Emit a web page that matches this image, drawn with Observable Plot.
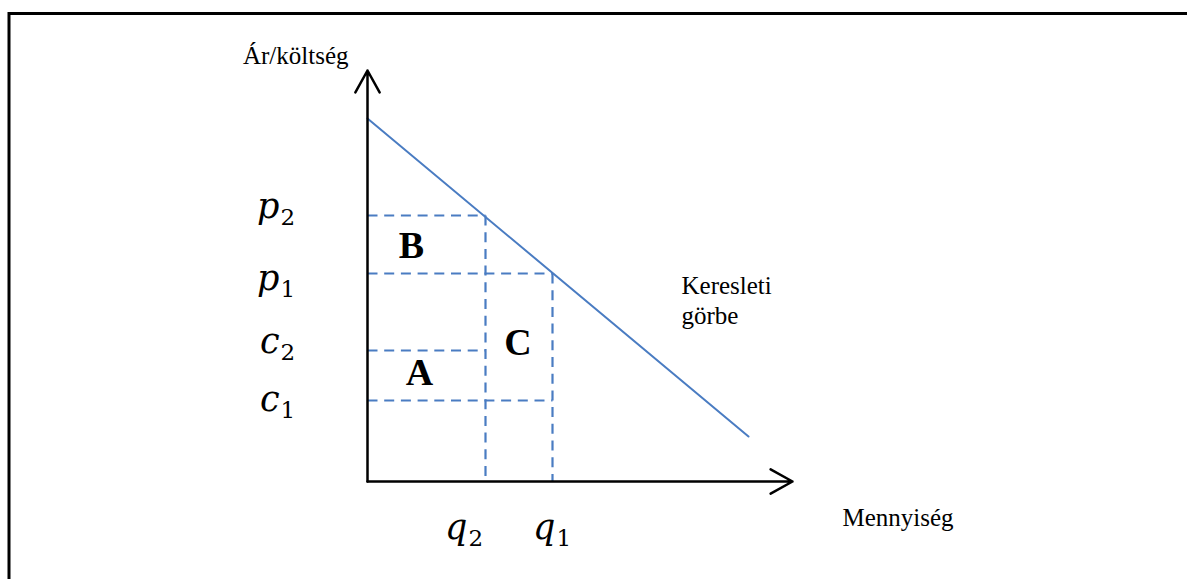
<!DOCTYPE html>
<html>
<head>
<meta charset="utf-8">
<script src="https://cdn.jsdelivr.net/npm/d3@7"></script>
<script src="https://cdn.jsdelivr.net/npm/@observablehq/plot@0.6"></script>
<style>
  html, body { margin: 0; padding: 0; background: #fff; overflow: hidden; }
</style>
</head>
<body>
<div id="chart"></div>
<script>
// ---- data (diagram units) ----
const priceNames = ["p", "p", "c", "c"];
const priceSubs = ["2", "1", "2", "1"];
const priceValues = [26.6, 20.8, 13.1, 8.1];
const priceReach = [11.8, 18.5, 11.8, 18.5]; // quantity each price line runs to

const quantityNames = ["q", "q"];
const quantitySubs = ["2", "1"];
const quantityValues = [11.8, 18.5];
const quantityReach = [26.6, 20.8]; // price each quantity line rises to

const demandX = [0, 38.1];
const demandY = [36.3, 4.5];

const xAxisMax = 42.5;
const yAxisMax = 41.1;

const areaLetters = ["B", "A", "C"];
const xTitle = "Mennyiség";
const yTitle = "Ár/költség";
const curveTitle = "Keresleti\ngörbe";

// ---- styles ----
const blue = "#4a7cc2";
const serif = "Liberation Serif, Times New Roman, serif";
const mathFont = "DejaVu Serif, serif";
const priceDy = [2, 16, 2, 10];
const quantityDx = [-18, 3];
const areaOffsets = [[-15, 1], [-7, -3], [-1, 6]];

// derived tables
const priceRows = priceValues.map((v, i) => ({v, reach: priceReach[i], name: priceNames[i], sub: priceSubs[i], i}));
const qRows = quantityValues.map((v, i) => ({v, reach: quantityReach[i], name: quantityNames[i], sub: quantitySubs[i], i}));
const demand = demandX.map((x, i) => ({x, y: demandY[i]}));
const [p2, p1, c2, c1] = priceValues;
const [q2, q1] = quantityValues;
const areaBounds = [
  [0, q2, p1, p2],
  [0, q2, c1, c2],
  [q2, q1, c1, p1]
];
const areas = areaLetters.map((t, i) => ({
  t,
  x: (areaBounds[i][0] + areaBounds[i][1]) / 2,
  y: (areaBounds[i][2] + areaBounds[i][3]) / 2,
  i
}));

const marks = [
  Plot.frame({stroke: "black", strokeWidth: 3, insetLeft: 8.5, insetTop: 13, insetRight: -20, insetBottom: -20}),
  // dashed price lines
  Plot.link(priceRows, {x1: 0, x2: "reach", y1: "v", y2: "v", stroke: blue, strokeWidth: 2.2, strokeDasharray: "10,6.7"}),
  // dashed quantity lines
  Plot.link(qRows, {x1: "v", x2: "v", y1: "reach", y2: 0, stroke: blue, strokeWidth: 2.2, strokeDasharray: "10,6.7"}),
  // demand curve
  Plot.line(demand, {x: "x", y: "y", stroke: blue, strokeWidth: 2}),
  // axes
  Plot.arrow([{x1: 0, y1: 0, x2: xAxisMax, y2: 0}, {x1: 0, y1: 0, x2: 0, y2: yAxisMax}],
    {x1: "x1", y1: "y1", x2: "x2", y2: "y2", stroke: "black", strokeWidth: 2.5, headLength: 15, headAngle: 58}),
  // axis titles
  Plot.text([yTitle], {x: 0, y: yAxisMax, text: d => d, textAnchor: "end", lineAnchor: "bottom", dx: -19, dy: -7,
    fontFamily: serif, fontSize: 25, fill: "black"}),
  Plot.text([xTitle], {x: xAxisMax, y: 0, text: d => d, textAnchor: "start", lineAnchor: "bottom", dx: 50, dy: 44,
    fontFamily: serif, fontSize: 25, fill: "black"}),
  Plot.text([curveTitle], {x: demandX[1], y: demandY[1], text: d => d, textAnchor: "start", lineAnchor: "bottom",
    dx: -67, dy: -113, lineHeight: 1.2, fontFamily: serif, fontSize: 25, fill: "black"}),
  // area letters
  ...areas.map(a => Plot.text([a], {x: "x", y: "y", text: "t", dx: areaOffsets[a.i][0], dy: areaOffsets[a.i][1],
    fontFamily: serif, fontSize: 38, fontWeight: "bold", fill: "black"}))
];

// price labels
priceRows.forEach(r => {
  marks.push(Plot.text([r], {x: 0, y: "v", text: "name", textAnchor: "end", lineAnchor: "bottom",
    dx: -88, dy: priceDy[r.i], fontFamily: mathFont, fontStyle: "italic", fontSize: 35, fill: "black"}));
  marks.push(Plot.text([r], {x: 0, y: "v", text: "sub", textAnchor: "start", lineAnchor: "bottom",
    dx: -87, dy: priceDy[r.i] + 7, fontFamily: mathFont, fontSize: 23, fill: "black"}));
});
// quantity labels
qRows.forEach(r => {
  marks.push(Plot.text([r], {x: "v", y: 0, text: "name", textAnchor: "end", lineAnchor: "bottom",
    dx: quantityDx[r.i], dy: 57, fontFamily: mathFont, fontStyle: "italic", fontSize: 35, fill: "black"}));
  marks.push(Plot.text([r], {x: "v", y: 0, text: "sub", textAnchor: "start", lineAnchor: "bottom",
    dx: quantityDx[r.i] + 1, dy: 64, fontFamily: mathFont, fontSize: 23, fill: "black"}));
});

const chart = Plot.plot({
  width: 1187,
  height: 579,
  margin: 0,
  x: {domain: [-36.7, 82.0], axis: null},
  y: {domain: [-9.8, 48.1], axis: null},
  style: {background: "white", overflow: "visible"},
  marks
});
document.getElementById("chart").append(chart);
</script>
</body>
</html>
